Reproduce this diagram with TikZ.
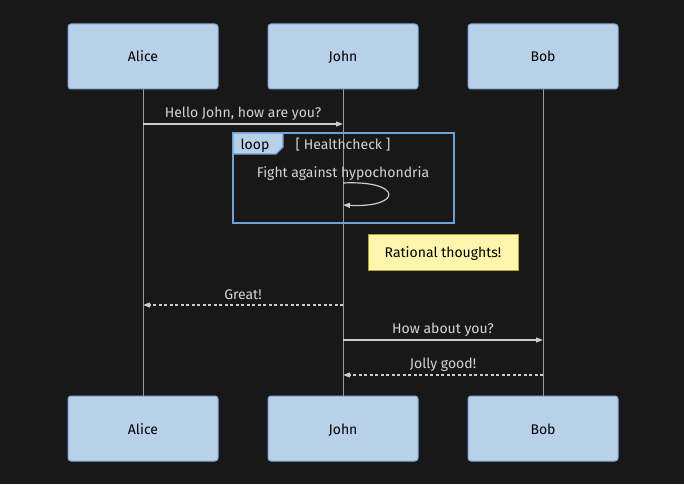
\documentclass[tikz,border=0pt]{standalone}
\usepackage{fontspec}
\setmainfont{Fira Sans}
\usetikzlibrary{arrows.meta}
\definecolor{canvas}{HTML}{181818}
\definecolor{actorfill}{HTML}{B8D0E8}
\definecolor{actorline}{HTML}{7EA8D8}
\definecolor{lifeline}{HTML}{9A9A9A}
\definecolor{msgline}{HTML}{CCCCCC}
\definecolor{msgtext}{HTML}{D4D4D4}
\definecolor{loopline}{HTML}{6FA0D8}
\definecolor{notefill}{HTML}{FFF5AD}
\definecolor{noteline}{HTML}{AAAA33}
\tikzset{
  actor/.style={draw=actorline, fill=actorfill, line width=1pt, rounded corners=3pt,
    minimum width=150pt, minimum height=65pt, inner sep=0pt, text=black,
    text height=13pt, text depth=2pt, font=\fontsize{14}{16}\selectfont},
  msg/.style={msgline, line width=1.2pt, -{Triangle[length=7pt,width=5pt]}},
  reply/.style={msg, dash pattern=on 3pt off 2.5pt},
  msglabel/.style={text=msgtext, inner sep=0pt, text height=13pt, text depth=2pt,
    font=\fontsize{14}{16}\selectfont}
}
\begin{document}
\begin{tikzpicture}[x=1pt, y=-1pt]
  \fill[canvas] (0,0) rectangle (684,484);
  \useasboundingbox (0,0) rectangle (684,484);

  % Akteurer
  \node[actor] (alice) at (143,56.5) {Alice};
  \node[actor] (john) at (343,56.5) {John};
  \node[actor] (bob) at (543,56.5) {Bob};
  \node[actor] (aliceB) at (143,428.5) {Alice};
  \node[actor] (johnB) at (343,428.5) {John};
  \node[actor] (bobB) at (543,428.5) {Bob};

  % Livslinjer
  \draw[lifeline, line width=0.7pt] (alice.south) -- (aliceB.north);
  \draw[lifeline, line width=0.7pt] (john.south) -- (johnB.north);
  \draw[lifeline, line width=0.7pt] (bob.south) -- (bobB.north);

  % Meldinger
  \coordinate (m1a) at (143,124);
  \coordinate (m1j) at (343,124);
  \draw[msg] (m1a) -- (m1j);
  \node[msglabel] (hello) at (243,112) {Hello John, how are you?};

  % Loop
  \draw[loopline, line width=1.2pt] (233,133) rectangle (454,223);
  \draw[loopline, line width=1.2pt, fill=actorfill] (233,133) -- (283,133) -- (283,147)
    -- (276,154) -- (233,154) -- cycle;
  \node[inner sep=0pt, text=black, text height=13pt, text depth=2pt,
    font=\fontsize{14}{16}\selectfont] (looptag) at (255,144) {loop};
  \node[msglabel] (cond) at (343,144) {[ Healthcheck ]};
  \node[msglabel] (fight) at (343,172) {Fight against hypochondria};
  \coordinate (selfA) at (343,183);
  \coordinate (selfB) at (343,205);
  \draw[msg] (selfA) .. controls (403,180) and (403,208) .. (selfB);

  % Notat
  \node[draw=noteline, fill=notefill, line width=0.8pt, minimum width=150pt, minimum height=36pt,
    inner sep=0pt, text=black, text height=13pt, text depth=2pt,
    font=\fontsize{14}{16}\selectfont] (note) at (443,252) {Rational thoughts!};

  \coordinate (m2j) at (343,305);
  \coordinate (m2a) at (143,305);
  \draw[reply] (m2j) -- (m2a);
  \node[msglabel] (great) at (243,294) {Great!};

  \coordinate (m3j) at (343,340);
  \coordinate (m3b) at (543,340);
  \draw[msg] (m3j) -- (m3b);
  \node[msglabel] (howabout) at (443,328) {How about you?};

  \coordinate (m4b) at (543,375);
  \coordinate (m4j) at (343,375);
  \draw[reply] (m4b) -- (m4j);
  \node[msglabel] (jolly) at (443,363) {Jolly good!};
\end{tikzpicture}
\end{document}
